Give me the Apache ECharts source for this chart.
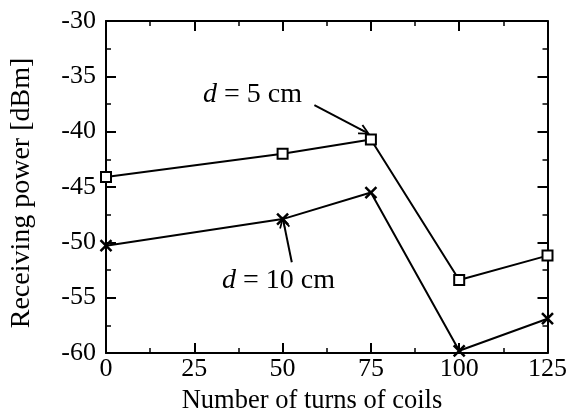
<!DOCTYPE html>
<html>
<head>
<meta charset="utf-8">
<script src="https://cdn.jsdelivr.net/npm/echarts@6/dist/echarts.min.js"></script>
<style>html,body{margin:0;padding:0;background:#fff}#c{width:570px;height:418px}</style>
</head>
<body>
<div id="c"></div>
<script>
const turns = [0, 50, 75, 100, 125];
const power5cm = [-44.1, -42.0, -40.7, -53.4, -51.2];
const power10cm = [-50.3, -47.9, -45.5, -59.8, -56.9];
const xTicks = [0, 25, 50, 75, 100, 125];
const yTicks = [-60, -55, -50, -45, -40, -35, -30];
const arrow5 = [[59, -37.6], [73.3, -40.0]];
const arrow10 = [[52.6, -51.8], [50.3, -48.2]];

const FONT = '"Liberation Serif", "Times New Roman", serif';
const chart = echarts.init(document.getElementById('c'), null, {renderer: 'canvas'});

function xAx(pos, labels) {
  return {
    type: 'value', position: pos, min: xTicks[0], max: xTicks[xTicks.length - 1], interval: 25,
    axisLine: {show: true, onZero: false, lineStyle: {color: '#000', width: 2}},
    axisTick: {show: true, inside: true, length: 10, lineStyle: {color: '#000', width: 2}},
    minorTick: {show: true, splitNumber: 2, length: 5, lineStyle: {color: '#000', width: 1.5}},
    axisLabel: {show: labels, color: '#000', fontSize: 26, fontFamily: FONT, margin: 3},
    splitLine: {show: false}
  };
}
function yAx(pos, labels) {
  return {
    type: 'value', position: pos, min: yTicks[0], max: yTicks[yTicks.length - 1], interval: 5,
    axisLine: {show: true, onZero: false, lineStyle: {color: '#000', width: 2}},
    axisTick: {show: true, inside: true, length: 10, lineStyle: {color: '#000', width: 2}},
    minorTick: {show: true, splitNumber: 2, length: 5, lineStyle: {color: '#000', width: 1.5}},
    axisLabel: {show: labels, color: '#000', fontSize: 26, fontFamily: FONT, margin: 10},
    splitLine: {show: false}
  };
}

const mk = (a) => [[{coord: a[0]}, {coord: a[1]}]];
const openArrow = 'path://M5,0L10,9L8.6,9.8L5,3.2L1.4,9.8L0,9ZM4.4,1L5.6,1L5.6,10L4.4,10Z';

chart.setOption({
  animation: false,
  backgroundColor: '#fff',
  grid: {left: 106, right: 19, top: 21, bottom: 65},
  xAxis: [xAx('bottom', true), xAx('top', false)],
  yAxis: [yAx('left', true), yAx('right', false)],
  series: [
    {
      type: 'line', name: 'd = 5 cm', clip: false,
      data: turns.map((t, i) => [t, power5cm[i]]),
      symbol: 'rect', symbolSize: 10,
      lineStyle: {color: '#000', width: 2},
      itemStyle: {color: '#fff', borderColor: '#000', borderWidth: 2},
      markLine: {
        silent: true, symbol: ['none', openArrow], symbolSize: [11, 12],
        label: {show: false},
        lineStyle: {color: '#000', width: 2, type: 'solid'},
        data: mk(arrow5)
      }
    },
    {
      type: 'line', name: 'd = 10 cm', clip: false,
      data: turns.map((t, i) => [t, power10cm[i]]),
      symbol: 'path://M0,0L10,10M10,0L0,10', symbolSize: 11,
      lineStyle: {color: '#000', width: 2},
      itemStyle: {color: 'none', borderColor: '#000', borderWidth: 2.5},
      markLine: {
        silent: true, symbol: ['none', openArrow], symbolSize: [11, 12],
        label: {show: false},
        lineStyle: {color: '#000', width: 2, type: 'solid'},
        data: mk(arrow10)
      }
    }
  ],
  graphic: [
    {type: 'text', x: 203, y: 95, style: {text: '{i|d} = 5 cm', font: '28px ' + FONT, fill: '#000', verticalAlign: 'middle',
      rich: {i: {fontStyle: 'italic', fontSize: 28, fontFamily: FONT}}}},
    {type: 'text', x: 222, y: 281, style: {text: '{i|d} = 10 cm', font: '28px ' + FONT, fill: '#000', verticalAlign: 'middle',
      rich: {i: {fontStyle: 'italic', fontSize: 28, fontFamily: FONT}}}},
    {type: 'text', x: 312, y: 401, style: {text: 'Number of turns of coils', font: '26.5px ' + FONT, fill: '#000', align: 'center', verticalAlign: 'middle'}},
    {type: 'text', x: 22, y: 193, rotation: Math.PI / 2, style: {text: 'Receiving power [dBm]', font: '28px ' + FONT, fill: '#000', align: 'center', verticalAlign: 'middle'}}
  ]
});
</script>
</body>
</html>
